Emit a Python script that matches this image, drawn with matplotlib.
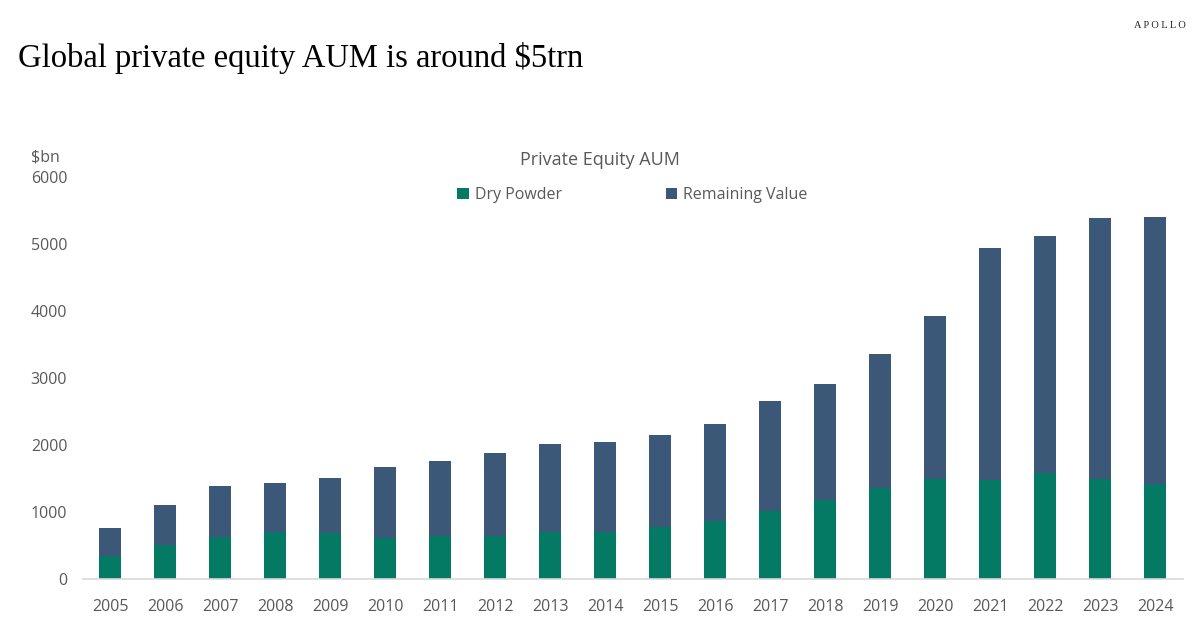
import numpy as np
import matplotlib.pyplot as plt

years = [str(y) for y in range(2005, 2025)]
total_aum = [768, 1101, 1384, 1438, 1512, 1681, 1771, 1884, 2024, 2054,
             2158, 2321, 2658, 2917, 3363, 3929, 4945, 5113, 5381, 5396]
dry_powder = [351, 510, 634, 704, 684, 619, 649, 649, 704, 699,
              774, 872, 1016, 1175, 1359, 1493, 1483, 1592, 1497, 1423]
remaining_value = [t - d for t, d in zip(total_aum, dry_powder)]

green = "#047A64"
blue = "#3B5878"
gray = "#595959"

plt.rcParams['font.family'] = ['Open Sans', 'DejaVu Sans']

fig = plt.figure(figsize=(12, 6.34), dpi=100)
ax = fig.add_axes([0.0688, 0.0863, 0.9167, 0.6346])

x = np.arange(len(years))
ax.bar(x, dry_powder, width=0.4, color=green, label="Dry Powder")
ax.bar(x, remaining_value, width=0.4, bottom=dry_powder, color=blue, label="Remaining Value")

ax.set_xlim(-0.5, len(years) - 0.5)
ax.set_ylim(0, 6000)
ax.set_yticks(range(0, 6001, 1000))
ax.set_xticks(x)
ax.set_xticklabels(years)
ax.tick_params(axis='both', length=0, labelsize=11.5, labelcolor=gray)
ax.tick_params(axis='y', pad=11)
ax.tick_params(axis='x', pad=14)
for s in ['top', 'right', 'left']:
    ax.spines[s].set_visible(False)
ax.spines['bottom'].set_color("#D9D9D9")
ax.spines['bottom'].set_linewidth(1.2)

# titles and labels
fig.text(0.015, 0.908, "Global private equity AUM is around $5trn",
         family=['Liberation Serif', 'DejaVu Serif'], fontsize=23.5, color="black", va='center')
fig.text(0.988, 0.96, "A P O L L O", family=['Liberation Serif', 'DejaVu Serif'],
         fontsize=7.5, ha='right', va='center', color="#222222")
fig.text(0.026, 0.752, "$bn", fontsize=11.5, color=gray, va='center')
fig.text(0.5, 0.748, "Private Equity AUM", fontsize=13, color=gray, ha='center', va='center')

ax.legend(loc='center', bbox_to_anchor=(0.5, 0.955), ncol=2, frameon=False,
          fontsize=11.5, labelcolor=gray, handlelength=0.7, handleheight=0.7,
          handletextpad=0.4, columnspacing=6.5)

fig.savefig("out.png", dpi=100)
